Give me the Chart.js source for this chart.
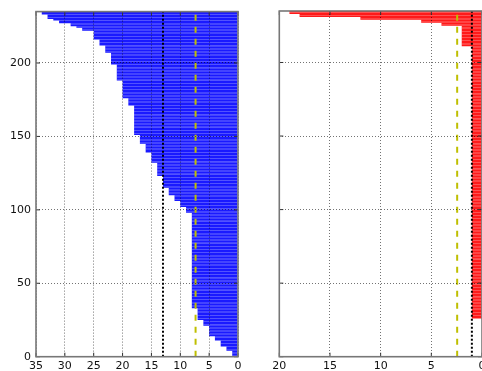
<!DOCTYPE html>
<html>
<head>
<meta charset="utf-8">
<script src="https://cdn.jsdelivr.net/npm/chart.js@4.4.1/dist/chart.umd.min.js"></script>
<style>
  html, body { margin: 0; padding: 0; background: #fff; overflow: hidden; }
  body { width: 482px; height: 371px; position: relative; }
  .box { position: absolute; top: 0; height: 371px; }
  #left { left: 0; width: 250px; }
  #right { left: 250px; width: 250px; }
</style>
</head>
<body>
<div class="box" id="left"><canvas id="leftChart" width="250" height="371"></canvas></div>
<div class="box" id="right"><canvas id="rightChart" width="250" height="371"></canvas></div>
<script>
// one bar per row, row 0 at the bottom
const blueValues = [
    1, 1, 1, 1,
    2, 2, 2,
    3, 3, 3, 3,
    4, 4, 4,
    5, 5, 5, 5, 5, 5, 5,
    6, 6, 6, 6,
    7, 7, 7, 7, 7, 7, 7, 7,
    8, 8, 8, 8, 8, 8, 8, 8, 8, 8, 8, 8, 8,
    8, 8, 8, 8, 8, 8, 8, 8, 8, 8, 8, 8, 8,
    8, 8, 8, 8, 8, 8, 8, 8, 8, 8, 8, 8, 8,
    8, 8, 8, 8, 8, 8, 8, 8, 8, 8, 8, 8, 8,
    8, 8, 8, 8, 8, 8, 8, 8, 8, 8, 8, 8, 8,
    9, 9, 9, 9,
    10, 10, 10, 10,
    11, 11, 11, 11,
    12, 12, 12, 12, 12,
    13, 13, 13, 13, 13, 13, 13, 13,
    14, 14, 14, 14, 14, 14, 14, 14, 14,
    15, 15, 15, 15, 15, 15, 15,
    16, 16, 16, 16, 16, 16,
    17, 17, 17, 17, 17, 17,
    18, 18, 18, 18, 18, 18, 18, 18, 18, 18,
    18, 18, 18, 18, 18, 18, 18, 18, 18, 18,
    19, 19, 19, 19, 19,
    20, 20, 20, 20, 20, 20, 20, 20, 20, 20, 20, 20,
    21, 21, 21, 21, 21, 21, 21, 21, 21, 21, 21,
    22, 22, 22, 22, 22, 22, 22, 22,
    23, 23, 23, 23, 23,
    24, 24, 24, 24,
    25, 25, 25, 25, 25, 25,
    27, 27,
    28,
    29, 29,
    31, 31,
    32,
    33, 33, 33,
    34, 34
];

const redValues = [
    0, 0, 0, 0, 0, 0, 0, 0, 0, 0, 0, 0, 0, 0, 0, 0, 0, 0, 0, 0,
    0, 0, 0, 0, 0, 0,
    1, 1, 1, 1, 1, 1, 1, 1, 1, 1, 1, 1, 1, 1, 1, 1, 1, 1, 1, 1,
    1, 1, 1, 1, 1, 1, 1, 1, 1, 1, 1, 1, 1, 1, 1, 1, 1, 1, 1, 1,
    1, 1, 1, 1, 1, 1, 1, 1, 1, 1, 1, 1, 1, 1, 1, 1, 1, 1, 1, 1,
    1, 1, 1, 1, 1, 1, 1, 1, 1, 1, 1, 1, 1, 1, 1, 1, 1, 1, 1, 1,
    1, 1, 1, 1, 1, 1, 1, 1, 1, 1, 1, 1, 1, 1, 1, 1, 1, 1, 1, 1,
    1, 1, 1, 1, 1, 1, 1, 1, 1, 1, 1, 1, 1, 1, 1, 1, 1, 1, 1, 1,
    1, 1, 1, 1, 1, 1, 1, 1, 1, 1, 1, 1, 1, 1, 1, 1, 1, 1, 1, 1,
    1, 1, 1, 1, 1, 1, 1, 1, 1, 1, 1, 1, 1, 1, 1, 1, 1, 1, 1, 1,
    1, 1, 1, 1, 1, 1, 1, 1, 1, 1, 1, 1, 1, 1, 1, 1, 1, 1, 1, 1,
    1, 1, 1, 1, 1,
    2, 2, 2, 2, 2, 2, 2, 2, 2, 2, 2, 2, 2, 2,
    4, 4,
    6, 6,
    12, 12,
    18, 18,
    19, 19
];

const leftDotted = 13;     // black dotted line, left panel
const leftDashed = 7.35;   // yellow dashed line, left panel
const rightDotted = 1;
const rightDashed = 2.45;

const yTicks = [0, 50, 100, 150, 200];
const leftXTicks = [0, 5, 10, 15, 20, 25, 30, 35];
const rightXTicks = [0, 5, 10, 15, 20];

Chart.defaults.font.family = "'DejaVu Sans', sans-serif";
Chart.defaults.font.size = 11;
Chart.defaults.color = '#111';

const rowCount = blueValues.length;

// box around the plot area with small inward ticks, like the original
const frame = {
    id: 'frame',
    afterDraw(chart) {
        const ctx = chart.ctx;
        const a = chart.chartArea;
        const sx = chart.scales.x, sy = chart.scales.y;
        ctx.save();
        ctx.strokeStyle = '#333';
        ctx.lineWidth = 1;
        ctx.beginPath();
        sx.ticks.forEach(t => {
            const p = sx.getPixelForValue(t.value);
            ctx.moveTo(p, a.bottom); ctx.lineTo(p, a.bottom - 4);
            ctx.moveTo(p, a.top); ctx.lineTo(p, a.top + 4);
        });
        sy.ticks.forEach(t => {
            const p = sy.getPixelForValue(t.value);
            ctx.moveTo(a.left, p); ctx.lineTo(a.left + 4, p);
            ctx.moveTo(a.right, p); ctx.lineTo(a.right - 4, p);
        });
        ctx.stroke();
        ctx.strokeStyle = '#777';
        ctx.lineWidth = 1.6;
        ctx.strokeRect(a.left, a.top, a.right - a.left, a.bottom - a.top);
        ctx.restore();
    }
};

function buildChart(canvasId, values, barColor, xMax, xTicks, dotted, dashed, yWidth, rightPad, showYLabels) {
    const ctx = document.getElementById(canvasId).getContext('2d');
    return new Chart(ctx, {
        type: 'bar',
        data: {
            datasets: [
                {
                    type: 'line',
                    data: [{x: dotted, y: 0}, {x: dotted, y: rowCount}],
                    borderColor: '#000',
                    borderWidth: 2,
                    borderDash: [2, 2],
                    pointRadius: 0,
                    order: 0
                },
                {
                    type: 'line',
                    data: [{x: dashed, y: 0}, {x: dashed, y: rowCount}],
                    borderColor: '#bfbf00',
                    borderWidth: 2,
                    borderDash: [6, 6],
                    pointRadius: 0,
                    order: 0
                },
                {
                    data: values.map((v, i) => ({x: v, y: i + 0.5})),
                    backgroundColor: barColor,
                    borderWidth: 0,
                    inflateAmount: 0,
                    barPercentage: 1,
                    categoryPercentage: 1,
                    order: 1
                }
            ]
        },
        options: {
            indexAxis: 'y',
            responsive: false,
            animation: false,
            layout: { padding: { top: 11, right: rightPad, left: 0, bottom: 0 } },
            plugins: { legend: { display: false }, tooltip: { enabled: false } },
            scales: {
                x: {
                    type: 'linear',
                    min: 0,
                    max: xMax,
                    reverse: true,
                    afterBuildTicks: s => { s.ticks = xTicks.map(v => ({ value: v })); },
                    afterFit: s => { s.height = 14.3; },
                    ticks: { padding: 3, maxRotation: 0, autoSkip: false },
                    grid: { color: 'rgba(0,0,0,0.55)', z: 1, drawTicks: false },
                    border: { display: false, dash: [1, 2] }
                },
                y: {
                    type: 'linear',
                    min: 0,
                    max: rowCount,
                    offset: false,
                    afterBuildTicks: s => { s.ticks = yTicks.map(v => ({ value: v })); },
                    afterFit: s => { s.width = yWidth; },
                    ticks: { display: showYLabels, padding: 5 },
                    grid: { color: 'rgba(0,0,0,0.55)', z: 1, drawTicks: false, offset: false },
                    border: { display: false, dash: [1, 2] }
                }
            }
        },
        plugins: [frame]
    });
}

buildChart('leftChart', blueValues, '#1a1aff', 35, leftXTicks, leftDotted, leftDashed, 36, 12, true);
buildChart('rightChart', redValues, '#ff1a1a', 20, rightXTicks, rightDotted, rightDashed, 29.3, 18, false);
</script>
</body>
</html>
